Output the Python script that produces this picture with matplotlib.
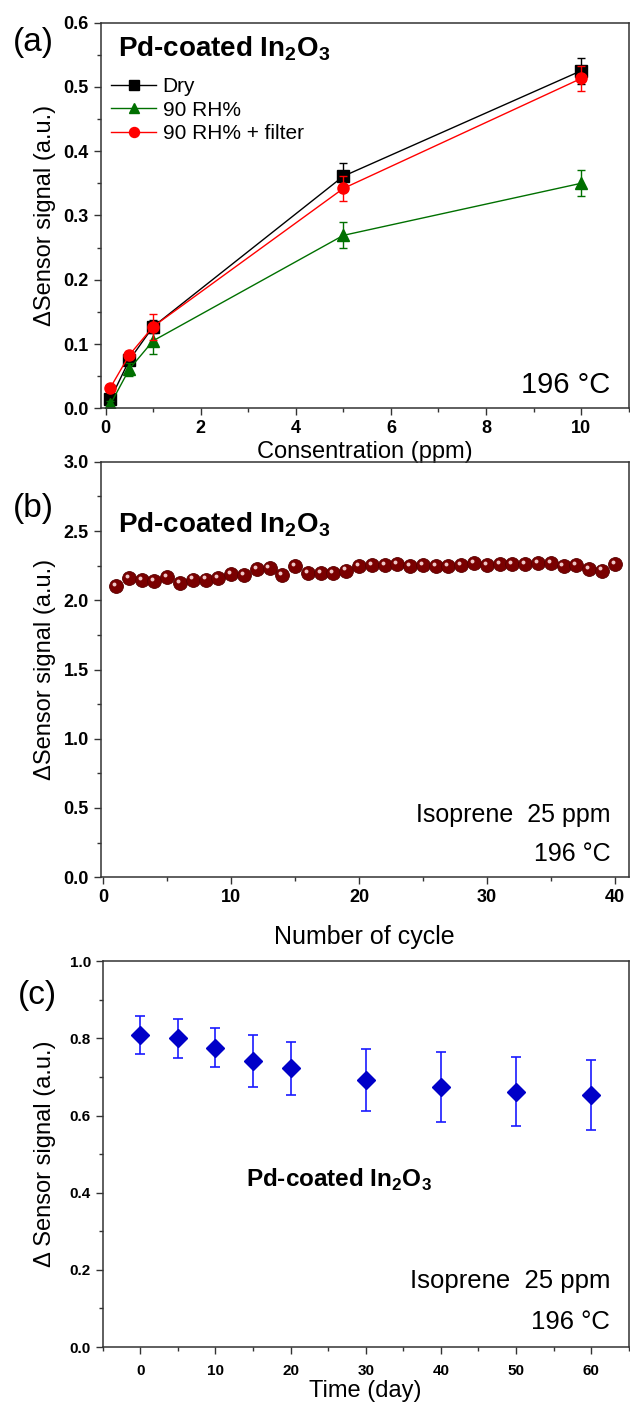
import matplotlib
matplotlib.use("Agg")
import matplotlib.pyplot as plt
from matplotlib.ticker import MultipleLocator
from matplotlib.transforms import offset_copy

plt.rcParams['font.family'] = ['Liberation Sans', 'DejaVu Sans']
plt.rcParams['mathtext.fontset'] = 'custom'
plt.rcParams['mathtext.rm'] = 'Liberation Sans'
plt.rcParams['mathtext.bf'] = 'Liberation Sans:bold'

# (a) concentration response
conc = [0.1, 0.5, 1, 5, 10]
dry = [0.014, 0.075, 0.127, 0.361, 0.525]
dry_err = [0.005, 0.006, 0.010, 0.020, 0.020]
rh90 = [0.006, 0.061, 0.105, 0.269, 0.350]
rh90_err = [0.005, 0.010, 0.020, 0.020, 0.020]
rh90_filter = [0.032, 0.083, 0.127, 0.342, 0.513]
rh90_filter_err = [0.005, 0.006, 0.020, 0.020, 0.020]

# (b) cycling stability
cycles = list(range(1, 41))
cycle_signal = [2.10, 2.16, 2.145, 2.14, 2.17, 2.125, 2.15, 2.15, 2.16, 2.19,
                2.18, 2.225, 2.23, 2.185, 2.25, 2.20, 2.20, 2.20, 2.215, 2.245,
                2.255, 2.255, 2.265, 2.25, 2.255, 2.25, 2.25, 2.255, 2.27, 2.255,
                2.265, 2.265, 2.265, 2.27, 2.27, 2.25, 2.255, 2.225, 2.215, 2.265]

# (c) long-term stability
days = [0, 5, 10, 15, 20, 30, 40, 50, 60]
day_signal = [0.809, 0.800, 0.776, 0.742, 0.722, 0.693, 0.675, 0.662, 0.653]
day_err = [0.050, 0.050, 0.050, 0.068, 0.069, 0.080, 0.091, 0.090, 0.090]

title_txt = r'Pd-coated In$_\mathbf{2}$O$_\mathbf{3}$'
spine_col = '#333333'

fig = plt.figure(figsize=(6.3, 14.08), dpi=100)
axa = fig.add_axes([0.160, 0.710, 0.838, 0.274])
axb = fig.add_axes([0.160, 0.377, 0.838, 0.295])
axc = fig.add_axes([0.163, 0.0433, 0.835, 0.274])
for ax in (axb, axc):
    ax.patch.set_alpha(0)


def style(ax, lab_size=13):
    for s in ax.spines.values():
        s.set_color(spine_col)
        s.set_linewidth(1.1)
    ax.tick_params(which='both', direction='out', top=False, right=False,
                   color=spine_col, width=1.0)
    ax.tick_params(which='major', length=5, labelsize=lab_size)
    ax.tick_params(which='minor', length=3)
    for t in ax.get_xticklabels() + ax.get_yticklabels():
        t.set_fontweight('bold')


def labels(ax, xl, yl, xsize, ysize, xpos, ypos):
    ax.set_xlabel(xl, fontsize=xsize)
    ax.set_ylabel(yl, fontsize=ysize)
    ax.xaxis.label.set_va('center')
    ax.yaxis.label.set_va('center')
    ax.xaxis.set_label_coords(0.5, xpos)
    ax.yaxis.set_label_coords(ypos, 0.5)


# ---- (a)
series_a = [(dry, dry_err, 'black', 's', 'Dry'),
            (rh90, rh90_err, '#007000', '^', '90 RH%'),
            (rh90_filter, rh90_filter_err, '#ff0000', 'o', '90 RH% + filter')]
for y, e, col, mk, lab in series_a:
    axa.errorbar(conc, y, yerr=e, color=col, ls='none', marker=None,
                 capsize=3, elinewidth=1.0, capthick=1.0)
    axa.plot(conc, y, color=col, marker=mk, markersize=8, lw=1.0, label=lab)
axa.set_xlim(-0.1, 11)
axa.set_ylim(0, 0.6)
axa.xaxis.set_major_locator(MultipleLocator(2))
axa.xaxis.set_minor_locator(MultipleLocator(1))
axa.yaxis.set_major_locator(MultipleLocator(0.1))
axa.yaxis.set_minor_locator(MultipleLocator(0.05))
labels(axa, 'Consentration (ppm)', 'ΔSensor signal (a.u.)', 17, 17, -0.114, -0.106)
style(axa)
axa.text(0.032, 0.933, title_txt, transform=axa.transAxes, fontsize=20,
         fontweight='bold', va='center', ha='left')
axa.legend(loc='upper left', bbox_to_anchor=(-0.005, 0.89), frameon=False,
           fontsize=15, handlelength=2.2, handletextpad=0.3,
           labelspacing=0.2, borderaxespad=0.2, markerscale=0.9)
axa.text(0.965, 0.06, '196 °C', transform=axa.transAxes, fontsize=21,
         ha='right', va='center')
fig.text(0.020, 0.970, '(a)', fontsize=24, va='center')

# ---- (b)
axb.plot(cycles, cycle_signal, ls='none', marker='o', markersize=10,
         color='#7a0000', markeredgecolor='#5a0000', markeredgewidth=0.6)
hl = offset_copy(axb.transData, fig=fig, x=-1.5, y=1.5, units='points')
axb.plot(cycles, cycle_signal, ls='none', marker='o', markersize=2.8,
         color='#f0c8c8', markeredgewidth=0, transform=hl)
axb.set_xlim(-0.2, 41.1)
axb.set_ylim(0, 3.0)
axb.xaxis.set_major_locator(MultipleLocator(10))
axb.xaxis.set_minor_locator(MultipleLocator(5))
axb.yaxis.set_major_locator(MultipleLocator(0.5))
axb.yaxis.set_minor_locator(MultipleLocator(0.25))
labels(axb, 'Number of cycle', 'ΔSensor signal (a.u.)', 18, 17, -0.145, -0.106)
style(axb)
axb.text(0.032, 0.848, title_txt, transform=axb.transAxes, fontsize=20,
         fontweight='bold', va='center', ha='left')
axb.text(0.965, 0.150, 'Isoprene  25 ppm', transform=axb.transAxes,
         fontsize=18, ha='right', va='center')
axb.text(0.965, 0.055, '196 °C', transform=axb.transAxes,
         fontsize=18, ha='right', va='center')
fig.text(0.020, 0.639, '(b)', fontsize=24, va='center')

# ---- (c)
axc.errorbar(days, day_signal, yerr=day_err, ls='none', marker='D',
             markersize=9, color='#0000c8', ecolor='#1a1aff', elinewidth=1.2,
             capsize=3.5, capthick=1.2)
axc.set_xlim(-5, 65)
axc.set_ylim(0, 1.0)
axc.xaxis.set_major_locator(MultipleLocator(10))
axc.xaxis.set_minor_locator(MultipleLocator(5))
axc.yaxis.set_major_locator(MultipleLocator(0.2))
axc.yaxis.set_minor_locator(MultipleLocator(0.1))
labels(axc, 'Time (day)', 'Δ Sensor signal (a.u.)', 17, 17, -0.115, -0.110)
style(axc, lab_size=11)
axc.tick_params(axis='x', pad=7)
axc.text(0.449, 0.434, title_txt, transform=axc.transAxes, fontsize=17.5,
         fontweight='bold', ha='center', va='center')
axc.text(0.965, 0.170, 'Isoprene  25 ppm', transform=axc.transAxes,
         fontsize=18.5, ha='right', va='center')
axc.text(0.965, 0.065, '196 °C', transform=axc.transAxes,
         fontsize=18.5, ha='right', va='center')
fig.text(0.028, 0.293, '(c)', fontsize=24, va='center')

fig.savefig('out.png', dpi=100)
